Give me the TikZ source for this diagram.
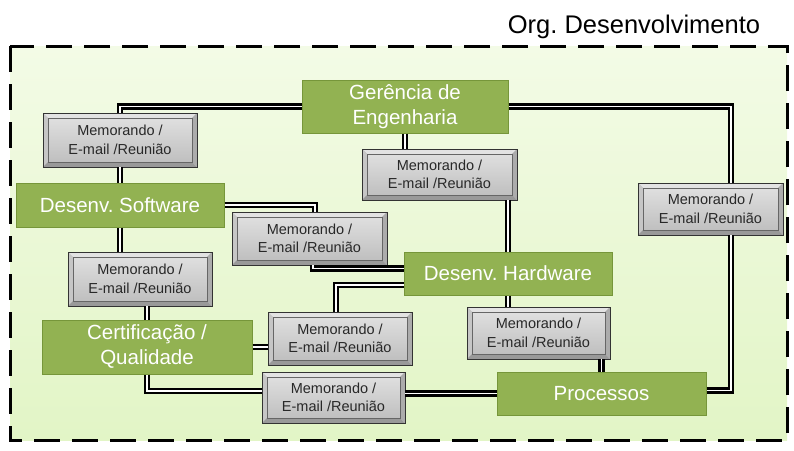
\documentclass[tikz,border=0pt]{standalone}
\usepackage{fontspec}
\setmainfont{Liberation Sans}
\usetikzlibrary{calc}
\definecolor{bggreenA}{RGB}{243,251,230}
\definecolor{bggreenB}{RGB}{226,245,198}
\definecolor{boxgreen}{RGB}{146,178,82}
\definecolor{boxgreenedge}{RGB}{118,150,58}
\definecolor{memotext}{RGB}{40,40,40}
\begin{document}
\frenchspacing
\begin{tikzpicture}[x=1pt,y=-1pt,
  grn/.style={rectangle, fill=boxgreen, draw=boxgreenedge, line width=1pt, inner sep=0pt,
    text=white, font=\fontsize{20.5}{25}\selectfont, align=center},
  memo/.style={rectangle, draw=black!80, line width=0.9pt, fill=gray!55, inner sep=0pt,
    font=\fontsize{14.5}{18.5}\selectfont, text=memotext, align=center,
    path picture={
      \coordinate (pnw) at (path picture bounding box.north west);
      \coordinate (pne) at (path picture bounding box.north east);
      \coordinate (psw) at (path picture bounding box.south west);
      \coordinate (pse) at (path picture bounding box.south east);
      \fill[gray!22] (pnw) -- (pne) -- ([shift={(-5pt,-5pt)}]pne) -- ([shift={(5pt,-5pt)}]pnw) -- cycle;
      \fill[gray!45] (pnw) -- (psw) -- ([shift={(5pt,5pt)}]psw) -- ([shift={(5pt,-5pt)}]pnw) -- cycle;
      \fill[gray!80] (psw) -- (pse) -- ([shift={(-5pt,5pt)}]pse) -- ([shift={(5pt,5pt)}]psw) -- cycle;
      \fill[gray!65] (pne) -- (pse) -- ([shift={(-5pt,5pt)}]pse) -- ([shift={(-5pt,-5pt)}]pne) -- cycle;
      \shade[top color=gray!25, middle color=white, bottom color=gray!50]
        ([shift={(5pt,-5pt)}]pnw) rectangle ([shift={(-5pt,5pt)}]pse);
      \draw[black!60, line width=0.5pt] ([shift={(5pt,-5pt)}]pnw) rectangle ([shift={(-5pt,5pt)}]pse);
    }},
  conn/.style={draw=black, line width=2.4pt, double=white, double distance=1.5pt}
]
\useasboundingbox (0,0) rectangle (794,450);
% frame
\shade[top color=bggreenA, bottom color=bggreenB] (10,46) rectangle (787,440);
\draw[black, line width=3pt, dash pattern=on 26pt off 12pt] (10,46) rectangle (787,440);
\node[font=\fontsize{25.5}{30}\selectfont, text=black] (title) at (634,27) {Org. Desenvolvimento};

% green boxes
\node[grn, minimum width=206pt, minimum height=53pt] (ger) at (405,106.5) {Gerência de\\Engenharia};
\node[grn, minimum width=208pt, minimum height=44pt] (sw) at (120,205) {Desenv. Software};
\node[grn, minimum width=208pt, minimum height=43pt] (hw) at (508,273.5) {Desenv. Hardware};
\node[grn, minimum width=210pt, minimum height=54pt] (cert) at (147,347) {Certificação /\\Qualidade};
\node[grn, minimum width=209pt, minimum height=43pt] (pro) at (601.5,393.5) {Processos};

% memo boxes
\node[memo, minimum width=154pt, minimum height=54pt] (m1) at (120,140) {Memorando /\\E-mail /Reunião};
\node[memo, minimum width=155pt, minimum height=51pt] (m2) at (439.5,174.5) {Memorando /\\E-mail /Reunião};
\node[memo, minimum width=145pt, minimum height=52pt] (m3) at (710.5,209) {Memorando /\\E-mail /Reunião};
\node[memo, minimum width=155pt, minimum height=53pt] (m4) at (309.5,238.5) {Memorando /\\E-mail /Reunião};
\node[memo, minimum width=144pt, minimum height=54pt] (m5) at (140,279) {Memorando /\\E-mail /Reunião};
\node[memo, minimum width=144pt, minimum height=53pt] (m6) at (340,338.5) {Memorando /\\E-mail /Reunião};
\node[memo, minimum width=143pt, minimum height=52pt] (m7) at (538.5,333) {Memorando /\\E-mail /Reunião};
\node[memo, minimum width=143pt, minimum height=51pt] (m8) at (333.5,397.5) {Memorando /\\E-mail /Reunião};

% connectors
\draw[conn] (ger.west) -| (m1.north);
\draw[conn] (m1.south) -- (sw.north);
\draw[conn] (ger.east) -| ($(m3.north)+(20.5,0)$);
\draw[conn] (ger.south) -- (ger.south |- m2.north);
\draw[conn] (m2.south -| hw.north) -- (hw.north);
\draw[conn] (sw.east) -| ($(m4.north)+(5.5,0)$);
\draw[conn] ($(m4.south)+(3.5,0)$) |- ($(hw.west)+(0,-5)$);
\draw[conn] ($(m6.north)+(-4,0)$) |- ($(hw.west)+(0,11.5)$);
\draw[conn] (sw.south) -- (sw.south |- m5.north);
\draw[conn] (m5.south -| cert.north) -- (cert.north);
\draw[conn] (cert.east) -- (cert.east -| m6.west);
\draw[conn] (cert.south) |- ($(m8.west)+(0,-6.5)$);
\draw[conn] (m8.east |- pro.west) -- (pro.west);
\draw[conn] (m7.south -| pro.north) -- (pro.north);
\draw[conn] (hw.south) -- (hw.south |- m7.north);
\draw[conn] ($(pro.east)+(0,-3)$) -| ($(m3.south)+(20.5,0)$);
\end{tikzpicture}
\end{document}
